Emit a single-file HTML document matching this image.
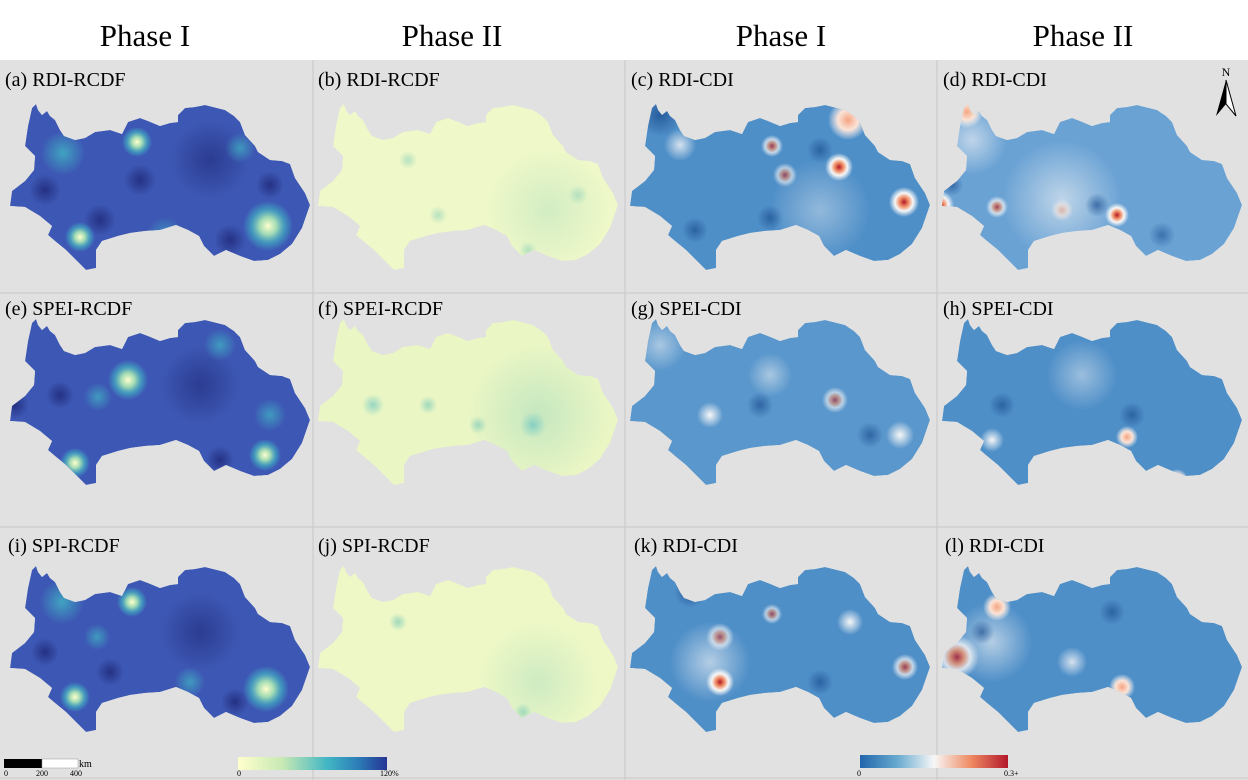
<!DOCTYPE html>
<html><head><meta charset="utf-8"><style>
html,body{margin:0;padding:0;background:#fff}
svg{display:block}
text{font-family:"Liberation Serif",serif;fill:#000}
</style></head><body>
<svg width="1248" height="780" viewBox="0 0 1248 780" xmlns="http://www.w3.org/2000/svg">
<defs>
<path id="m" d="M32,48 L36,44 L38,50 L42,55 L47,51 L50,56 L55,60 L60,70 L64,76 L75,80 L85,78 L95,72 L110,70 L122,74 L126,66 L128,62 L140,58 L148,61 L160,66 L170,63 L178,62 L178,55 L185,48 L195,47 L205,45 L225,50 L234,56 L240,62 L245,75 L255,86 L258,92 L270,100 L282,101 L290,104 L295,118 L305,133 L310,145 L302,168 L292,184 L280,194 L268,200 L254,201 L240,196 L226,190 L214,196 L204,186 L199,176 L188,170 L176,165 L160,170 L145,171 L130,173 L118,176 L102,181 L96,190 L96,208 L86,210 L76,200 L66,190 L55,181 L48,175 L52,166 L40,156 L25,147 L10,146 L12,131 L25,121 L34,110 L35,96 L25,86 L28,66 Z"/>
<clipPath id="c"><use href="#m"/></clipPath>
<radialGradient id="Y"><stop offset="0" stop-color="#ffffcc"/><stop offset=".35" stop-color="#a1dab4"/><stop offset=".7" stop-color="#41b6c4" stop-opacity=".6"/><stop offset="1" stop-color="#41b6c4" stop-opacity="0"/></radialGradient>
<radialGradient id="C"><stop offset="0" stop-color="#41b6c4"/><stop offset="1" stop-color="#41b6c4" stop-opacity="0"/></radialGradient>
<radialGradient id="D"><stop offset="0" stop-color="#1a1f6e"/><stop offset="1" stop-color="#1a1f6e" stop-opacity="0"/></radialGradient>
<radialGradient id="G"><stop offset="0" stop-color="#9fd8bc"/><stop offset="1" stop-color="#9fd8bc" stop-opacity="0"/></radialGradient>
<radialGradient id="W"><stop offset="0" stop-color="#f7f7f7"/><stop offset="1" stop-color="#f7f7f7" stop-opacity="0"/></radialGradient>
<radialGradient id="R"><stop offset="0" stop-color="#b2182b"/><stop offset=".3" stop-color="#ef8a62"/><stop offset=".6" stop-color="#f7f7f7"/><stop offset="1" stop-color="#f7f7f7" stop-opacity="0"/></radialGradient>
<radialGradient id="P"><stop offset="0" stop-color="#f4a582"/><stop offset=".5" stop-color="#fbe3d6"/><stop offset="1" stop-color="#f7f7f7" stop-opacity="0"/></radialGradient>
<radialGradient id="B"><stop offset="0" stop-color="#1c4f91"/><stop offset="1" stop-color="#1c4f91" stop-opacity="0"/></radialGradient>
<linearGradient id="cb1"><stop offset="0" stop-color="#ffffcc"/><stop offset=".3" stop-color="#c7e9b4"/><stop offset=".6" stop-color="#41b6c4"/><stop offset=".8" stop-color="#2c7fb8"/><stop offset="1" stop-color="#253494"/></linearGradient>
<linearGradient id="cb2"><stop offset="0" stop-color="#2166ac"/><stop offset=".25" stop-color="#67a9cf"/><stop offset=".5" stop-color="#f7f7f7"/><stop offset=".75" stop-color="#ef8a62"/><stop offset="1" stop-color="#b2182b"/></linearGradient>
</defs>
<rect x="0" y="60" width="1248" height="720" fill="#e1e1e1"/>
<g stroke="#c8c8c8" stroke-width="1">
<line x1="313" y1="60" x2="313" y2="780"/><line x1="625" y1="60" x2="625" y2="780"/><line x1="937" y1="60" x2="937" y2="780"/>
<line x1="0" y1="293" x2="1248" y2="293"/><line x1="0" y1="527" x2="1248" y2="527"/><line x1="0" y1="778" x2="1248" y2="778"/>
</g>
<g font-size="31">
<text x="145" y="46" text-anchor="middle">Phase I</text><text x="452" y="46" text-anchor="middle">Phase II</text>
<text x="781" y="46" text-anchor="middle">Phase I</text><text x="1083" y="46" text-anchor="middle">Phase II</text>
</g>
<g font-size="20">
<text x="5" y="86">(a) RDI-RCDF</text><text x="318" y="86">(b) RDI-RCDF</text><text x="631" y="86">(c) RDI-CDI</text><text x="943" y="86">(d) RDI-CDI</text>
<text x="5" y="315">(e) SPEI-RCDF</text><text x="318" y="315">(f) SPEI-RCDF</text><text x="631" y="315">(g) SPEI-CDI</text><text x="943" y="315">(h) SPEI-CDI</text>
<text x="8" y="552">(i) SPI-RCDF</text><text x="318" y="552">(j) SPI-RCDF</text><text x="634" y="552">(k) RDI-CDI</text><text x="945" y="552">(l) RDI-CDI</text>
</g>
<text x="1226" y="76" font-size="12" text-anchor="middle">N</text>
<path d="M1226,80 L1216,116 L1226,104 Z" fill="#000"/><path d="M1226,80 L1236,116 L1226,104 Z" fill="#fff" stroke="#000" stroke-width="1"/>

<!-- Column 1 -->
<g transform="translate(0,60)"><g clip-path="url(#c)"><use href="#m" fill="#3d58b4"/>
<circle cx="210" cy="100" r="40" fill="url(#D)" opacity=".5"/><circle cx="45" cy="130" r="16" fill="url(#D)" opacity=".7"/><circle cx="100" cy="160" r="16" fill="url(#D)" opacity=".7"/><circle cx="140" cy="120" r="16" fill="url(#D)" opacity=".7"/><circle cx="270" cy="125" r="14" fill="url(#D)" opacity=".7"/><circle cx="230" cy="180" r="16" fill="url(#D)" opacity=".7"/>
<circle cx="63" cy="93" r="22" fill="url(#C)" opacity=".8"/><circle cx="240" cy="88" r="15" fill="url(#C)" opacity=".7"/><circle cx="165" cy="175" r="18" fill="url(#C)" opacity=".6"/>
<circle cx="137" cy="82" r="15" fill="url(#Y)"/><circle cx="80" cy="177" r="15" fill="url(#Y)"/><circle cx="268" cy="166" r="25" fill="url(#Y)"/></g></g>
<g transform="translate(0,275)"><g clip-path="url(#c)"><use href="#m" fill="#3d58b4"/>
<circle cx="200" cy="110" r="40" fill="url(#D)" opacity=".5"/><circle cx="15" cy="130" r="14" fill="url(#D)" opacity=".7"/><circle cx="60" cy="120" r="14" fill="url(#D)" opacity=".7"/><circle cx="220" cy="185" r="14" fill="url(#D)" opacity=".7"/>
<circle cx="128" cy="105" r="20" fill="url(#Y)"/><circle cx="98" cy="122" r="14" fill="url(#C)" opacity=".7"/><circle cx="220" cy="70" r="16" fill="url(#C)" opacity=".7"/><circle cx="75" cy="188" r="15" fill="url(#Y)"/><circle cx="265" cy="180" r="16" fill="url(#Y)"/><circle cx="270" cy="140" r="16" fill="url(#C)" opacity=".7"/><circle cx="10" cy="158" r="10" fill="url(#Y)"/></g></g>
<g transform="translate(0,522)"><g clip-path="url(#c)"><use href="#m" fill="#3d58b4"/>
<circle cx="200" cy="110" r="40" fill="url(#D)" opacity=".5"/><circle cx="45" cy="130" r="14" fill="url(#D)" opacity=".7"/><circle cx="110" cy="150" r="14" fill="url(#D)" opacity=".7"/><circle cx="235" cy="180" r="14" fill="url(#D)" opacity=".7"/>
<circle cx="62" cy="80" r="22" fill="url(#C)" opacity=".8"/><circle cx="132" cy="80" r="15" fill="url(#Y)"/><circle cx="97" cy="115" r="13" fill="url(#C)" opacity=".7"/><circle cx="75" cy="175" r="15" fill="url(#Y)"/><circle cx="266" cy="167" r="23" fill="url(#Y)"/><circle cx="190" cy="160" r="15" fill="url(#C)" opacity=".7"/></g></g>

<!-- Column 2 -->
<g transform="translate(308,60)"><g clip-path="url(#c)"><use href="#m" fill="#eef8c8"/>
<circle cx="240" cy="150" r="60" fill="url(#G)" opacity=".35"/><circle cx="100" cy="100" r="9" fill="url(#G)" opacity=".7"/><circle cx="130" cy="155" r="9" fill="url(#G)" opacity=".7"/><circle cx="220" cy="190" r="9" fill="url(#G)" opacity=".7"/><circle cx="270" cy="135" r="10" fill="url(#G)" opacity=".7"/></g></g>
<g transform="translate(308,275)"><g clip-path="url(#c)"><use href="#m" fill="#eaf6c4"/>
<circle cx="230" cy="140" r="70" fill="url(#G)" opacity=".5"/><circle cx="65" cy="130" r="11" fill="url(#C)" opacity=".5"/><circle cx="225" cy="150" r="13" fill="url(#C)" opacity=".5"/><circle cx="170" cy="150" r="9" fill="url(#G)"/><circle cx="120" cy="130" r="9" fill="url(#G)"/></g></g>
<g transform="translate(308,522)"><g clip-path="url(#c)"><use href="#m" fill="#eef8c6"/>
<circle cx="230" cy="160" r="60" fill="url(#G)" opacity=".4"/><circle cx="130" cy="185" r="11" fill="url(#C)" opacity=".5"/><circle cx="90" cy="100" r="9" fill="url(#G)"/><circle cx="215" cy="190" r="9" fill="url(#G)"/></g></g>

<!-- Column 3 -->
<g transform="translate(620,60)"><g clip-path="url(#c)"><use href="#m" fill="#4f8fc8"/>
<circle cx="200" cy="150" r="50" fill="url(#W)" opacity=".4"/><circle cx="40" cy="55" r="22" fill="url(#B)" opacity=".8"/><circle cx="60" cy="85" r="16" fill="url(#W)" opacity=".8"/><circle cx="75" cy="170" r="13" fill="url(#B)" opacity=".7"/><circle cx="150" cy="158" r="13" fill="url(#B)" opacity=".7"/><circle cx="200" cy="90" r="13" fill="url(#B)" opacity=".7"/>
<circle cx="228" cy="60" r="20" fill="url(#P)"/><circle cx="152" cy="86" r="11" fill="url(#R)" opacity=".7"/><circle cx="165" cy="115" r="12" fill="url(#R)" opacity=".6"/><circle cx="219" cy="107" r="14" fill="url(#R)"/><circle cx="284" cy="142" r="15" fill="url(#R)"/></g></g>
<g transform="translate(620,275)"><g clip-path="url(#c)"><use href="#m" fill="#5a97cc"/>
<circle cx="40" cy="70" r="26" fill="url(#W)" opacity=".5"/><circle cx="150" cy="100" r="22" fill="url(#W)" opacity=".5"/><circle cx="140" cy="130" r="13" fill="url(#B)" opacity=".7"/><circle cx="250" cy="160" r="13" fill="url(#B)" opacity=".7"/><circle cx="90" cy="140" r="13" fill="url(#W)"/><circle cx="215" cy="125" r="13" fill="url(#R)" opacity=".6"/><circle cx="280" cy="160" r="14" fill="url(#W)"/></g></g>
<g transform="translate(620,522)"><g clip-path="url(#c)"><use href="#m" fill="#4f8fc8"/>
<circle cx="90" cy="140" r="40" fill="url(#W)" opacity=".6"/><circle cx="70" cy="70" r="16" fill="url(#B)" opacity=".8"/><circle cx="100" cy="115" r="14" fill="url(#R)" opacity=".6"/><circle cx="100" cy="160" r="14" fill="url(#R)"/><circle cx="152" cy="92" r="10" fill="url(#R)" opacity=".6"/><circle cx="285" cy="145" r="13" fill="url(#R)" opacity=".7"/><circle cx="200" cy="160" r="13" fill="url(#B)" opacity=".7"/><circle cx="230" cy="100" r="13" fill="url(#W)"/></g></g>

<!-- Column 4 -->
<g transform="translate(932,60)"><g clip-path="url(#c)"><use href="#m" fill="#6aa2d4"/>
<circle cx="130" cy="140" r="60" fill="url(#W)" opacity=".6"/><circle cx="40" cy="80" r="35" fill="url(#W)" opacity=".6"/><circle cx="35" cy="52" r="16" fill="url(#P)"/><circle cx="8" cy="145" r="14" fill="url(#R)"/><circle cx="65" cy="147" r="11" fill="url(#R)" opacity=".7"/><circle cx="185" cy="155" r="12" fill="url(#R)"/><circle cx="130" cy="150" r="11" fill="url(#P)" opacity=".6"/><circle cx="165" cy="145" r="12" fill="url(#B)" opacity=".7"/><circle cx="20" cy="125" r="11" fill="url(#B)" opacity=".7"/><circle cx="230" cy="175" r="13" fill="url(#B)" opacity=".6"/></g></g>
<g transform="translate(932,275)"><g clip-path="url(#c)"><use href="#m" fill="#4f8fc8"/>
<circle cx="150" cy="100" r="35" fill="url(#W)" opacity=".45"/><circle cx="8" cy="160" r="12" fill="url(#R)"/><circle cx="70" cy="130" r="13" fill="url(#B)" opacity=".7"/><circle cx="200" cy="140" r="13" fill="url(#B)" opacity=".7"/><circle cx="195" cy="162" r="11" fill="url(#P)"/><circle cx="245" cy="205" r="11" fill="url(#P)"/><circle cx="60" cy="165" r="12" fill="url(#W)"/></g></g>
<g transform="translate(932,522)"><g clip-path="url(#c)"><use href="#m" fill="#4f8fc8"/>
<circle cx="60" cy="120" r="40" fill="url(#W)" opacity=".6"/><circle cx="25" cy="135" r="22" fill="url(#R)" opacity=".8"/><circle cx="65" cy="85" r="14" fill="url(#P)"/><circle cx="190" cy="165" r="13" fill="url(#P)"/><circle cx="50" cy="110" r="12" fill="url(#B)" opacity=".7"/><circle cx="180" cy="90" r="13" fill="url(#B)" opacity=".7"/><circle cx="140" cy="140" r="15" fill="url(#W)" opacity=".8"/></g></g>

<rect x="4" y="759" width="38" height="9" fill="#000"/><rect x="42" y="759" width="36" height="9" fill="#fff" stroke="#999" stroke-width=".5"/>
<text x="79" y="767" font-size="10">km</text>
<g font-size="8"><text x="4" y="776">0</text><text x="36" y="776">200</text><text x="70" y="776">400</text>
<text x="237" y="776">0</text><text x="380" y="776">120%</text><text x="857" y="776">0</text><text x="1004" y="776">0.3+</text></g>
<rect x="238" y="757" width="149" height="13" fill="url(#cb1)"/>
<rect x="860" y="755" width="148" height="13" fill="url(#cb2)"/>
</svg>
</body></html>
